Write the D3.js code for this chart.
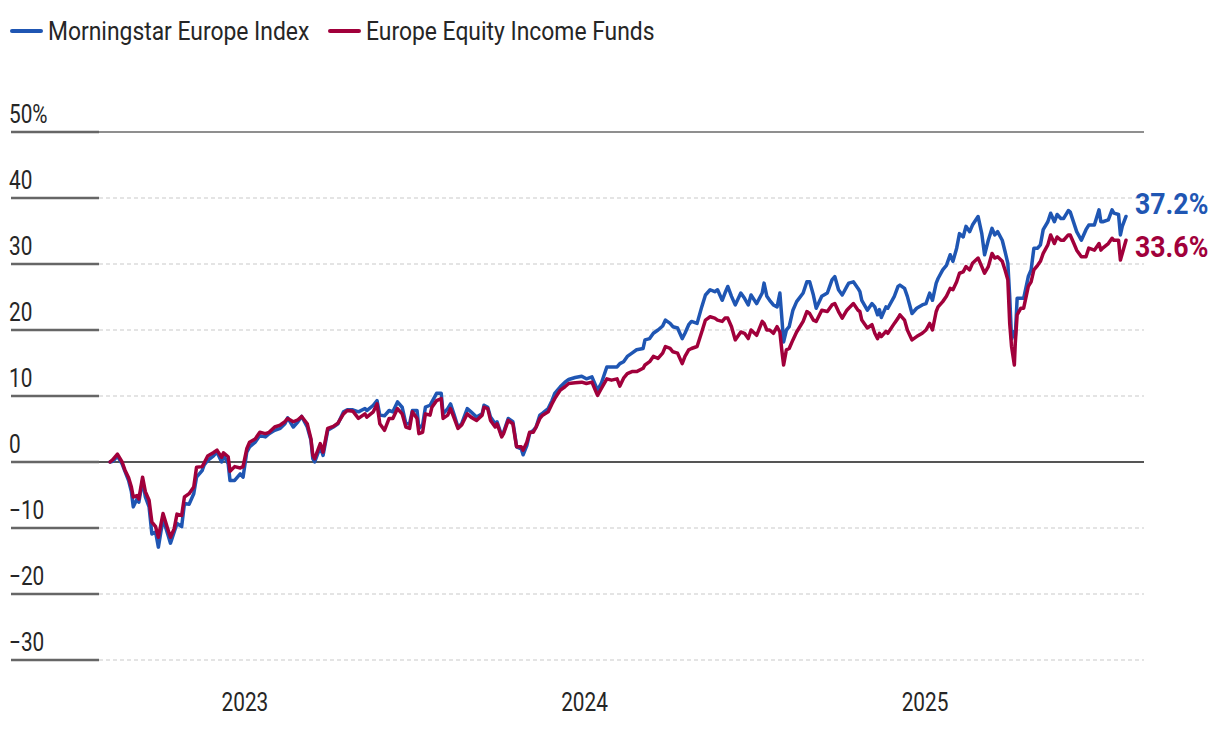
<!DOCTYPE html>
<html>
<head>
<meta charset="utf-8">
<script src="https://cdn.jsdelivr.net/npm/d3@7"></script>
<style>
  body { margin: 0; background: #fff; }
  svg { display: block; }
  text { font-family: Roboto, "Noto Sans", sans-serif; fill: #262626; }
</style>
</head>
<body>
<svg id="chart" width="1220" height="732"></svg>
<script>
// ---- data ----
const seriesNames = ["Morningstar Europe Index", "Europe Equity Income Funds"];
const seriesColors = ["#1f56b3", "#a1003b"];

const dates = [
  "2022-08-09","2022-08-12","2022-08-17","2022-08-22","2022-08-25","2022-08-29","2022-09-01","2022-09-03",
  "2022-09-07","2022-09-09","2022-09-13","2022-09-16","2022-09-20","2022-09-23","2022-09-27","2022-09-30",
  "2022-10-05","2022-10-10","2022-10-13","2022-10-17","2022-10-20","2022-10-25","2022-10-28","2022-11-02",
  "2022-11-07","2022-11-10","2022-11-16","2022-11-18","2022-11-22","2022-11-28","2022-12-02","2022-12-07",
  "2022-12-09","2022-12-14","2022-12-16","2022-12-21","2022-12-27","2022-12-30","2023-01-03","2023-01-06",
  "2023-01-12","2023-01-17","2023-01-23","2023-01-27","2023-02-02","2023-02-08","2023-02-13","2023-02-16",
  "2023-02-22","2023-02-27","2023-03-03","2023-03-09","2023-03-13","2023-03-15","2023-03-17","2023-03-23",
  "2023-03-26","2023-03-31","2023-04-06","2023-04-11","2023-04-17","2023-04-21","2023-04-27","2023-05-03",
  "2023-05-10","2023-05-12","2023-05-19","2023-05-23","2023-05-26","2023-05-31","2023-06-05","2023-06-09",
  "2023-06-14","2023-06-19","2023-06-23","2023-06-27","2023-06-30","2023-07-05","2023-07-07","2023-07-11",
  "2023-07-14","2023-07-19","2023-07-21","2023-07-26","2023-07-31","2023-08-02","2023-08-07","2023-08-10",
  "2023-08-14","2023-08-18","2023-08-22","2023-08-28","2023-09-01","2023-09-07","2023-09-13","2023-09-15",
  "2023-09-19","2023-09-22","2023-09-27","2023-09-29","2023-10-04","2023-10-06","2023-10-11","2023-10-16",
  "2023-10-18","2023-10-20","2023-10-25","2023-10-27","2023-10-31","2023-11-03","2023-11-07","2023-11-10",
  "2023-11-14","2023-11-17","2023-11-23","2023-11-27","2023-11-30","2023-12-06","2023-12-11","2023-12-15",
  "2023-12-22","2023-12-29","2024-01-03","2024-01-09","2024-01-12","2024-01-15","2024-01-19","2024-01-25",
  "2024-01-30","2024-02-05","2024-02-08","2024-02-12","2024-02-16","2024-02-21","2024-02-26","2024-03-04",
  "2024-03-06","2024-03-11","2024-03-15","2024-03-20","2024-03-25","2024-03-28","2024-04-02","2024-04-05",
  "2024-04-10","2024-04-15","2024-04-18","2024-04-22","2024-04-25","2024-05-01","2024-05-06","2024-05-10",
  "2024-05-15","2024-05-20","2024-05-23","2024-05-28","2024-05-31","2024-06-03","2024-06-07","2024-06-11",
  "2024-06-17","2024-06-21","2024-06-25","2024-06-28","2024-07-04","2024-07-10","2024-07-12","2024-07-15",
  "2024-07-18","2024-07-22","2024-07-26","2024-07-29","2024-07-31","2024-08-02","2024-08-05","2024-08-08",
  "2024-08-12","2024-08-16","2024-08-23","2024-08-27","2024-08-30","2024-09-03","2024-09-06","2024-09-12",
  "2024-09-18","2024-09-23","2024-09-26","2024-09-30","2024-10-04","2024-10-09","2024-10-11","2024-10-16",
  "2024-10-21","2024-10-23","2024-10-25","2024-10-31","2024-11-05","2024-11-08","2024-11-11","2024-11-13",
  "2024-11-15","2024-11-20","2024-11-22","2024-11-29","2024-12-03","2024-12-05","2024-12-10","2024-12-13",
  "2024-12-18","2024-12-23","2024-12-29","2025-01-02","2025-01-06","2025-01-09","2025-01-13","2025-01-15",
  "2025-01-20","2025-01-24","2025-01-28","2025-01-31","2025-02-04","2025-02-07","2025-02-11","2025-02-14",
  "2025-02-18","2025-02-21","2025-02-27","2025-03-03","2025-03-06","2025-03-10","2025-03-14","2025-03-17",
  "2025-03-20","2025-03-25","2025-03-28","2025-03-31","2025-04-02","2025-04-04","2025-04-07","2025-04-08",
  "2025-04-10","2025-04-14","2025-04-17","2025-04-22","2025-04-25","2025-04-28","2025-05-02","2025-05-05",
  "2025-05-08","2025-05-13","2025-05-16","2025-05-20","2025-05-23","2025-05-27","2025-05-30","2025-06-04",
  "2025-06-06","2025-06-10","2025-06-13","2025-06-18","2025-06-23","2025-06-26","2025-07-02","2025-07-07",
  "2025-07-09","2025-07-11","2025-07-17","2025-07-21","2025-07-23","2025-07-28","2025-07-30","2025-08-01",
  "2025-08-05"
];

// Morningstar Europe Index, cumulative return %
const indexValues = [
  0, 0.1, 0.9, -0.3, -1.4, -2.8, -4.5, -6.8,
  -5.6, -6.1, -2.8, -5.3, -6.8, -10.9, -10.6, -12.9,
  -8.6, -10.9, -12.3, -10.6, -9.3, -9.8, -6.3, -6.4,
  -4.8, -2.3, -1.3, -0.5, 0.25, 0.9, 1.5, 0,
  1.0, -0.25, -2.8, -2.8, -1.8, -2.3, 1.5, 2.3,
  3.0, 4.0, 3.8, 4.3, 4.8, 5.1, 5.8, 6.7,
  5.3, 6.1, 6.9, 5.3, 3.3, 0.5, 0, 2.3,
  1.0, 4.8, 5.3, 5.8, 7.6, 7.9, 7.9, 7.6,
  8.1, 7.8, 8.6, 9.3, 7.1, 7.0, 7.8, 7.6,
  9.1, 8.3, 5.8, 5.8, 7.8, 7.8, 5.1, 5.6,
  8.3, 8.6, 9.1, 10.4, 10.4, 7.3, 8.1, 8.8,
  7.1, 5.3, 5.8, 8.1, 7.6, 6.8, 7.3, 8.6,
  8.3, 6.8, 5.8, 6.1, 4.0, 4.5, 6.6, 6.1,
  4.3, 2.3, 2.0, 1.1, 2.5, 4.3, 4.8, 5.3,
  7.1, 7.4, 8.1, 9.3, 10.4, 11.4, 12.1, 12.5,
  12.8, 13.0, 12.6, 12.9, 11.9, 10.9, 11.9, 14.4,
  14.4, 14.4, 14.9, 15.2, 16.0, 16.5, 17.0, 17.2,
  18.5, 18.7, 19.5, 20.0, 20.6, 21.5, 21.0, 20.5,
  20.3, 18.7, 19.5, 20.8, 21.3, 21.0, 23.5, 25.3,
  26.1, 25.8, 26.1, 24.5, 25.6, 26.6, 25.1, 23.8,
  25.6, 24.8, 23.8, 25.3, 24.0, 25.6, 27.1, 25.1,
  24.5, 23.8, 23.5, 25.6, 22.0, 18.2, 20.0, 20.5,
  23.0, 24.3, 25.6, 27.3, 27.3, 25.3, 23.3, 25.1,
  25.6, 27.6, 28.1, 26.1, 25.3, 26.6, 27.1, 27.3,
  26.3, 25.8, 24.5, 23.0, 24.0, 23.5, 22.3, 23.1,
  21.9, 23.5, 23.3, 25.1, 26.6, 26.8, 26.3, 25.1,
  22.5, 23.3, 23.8, 24.0, 25.6, 24.5, 27.1, 27.8,
  29.1, 29.8, 31.4, 30.4, 32.4, 34.6, 34.1, 35.7,
  34.9, 35.9, 37.2, 34.6, 31.4, 33.6, 35.4, 34.4,
  34.9, 33.6, 31.9, 30.1, 25.1, 18.6, 19.8, 19.0,
  24.8, 24.8, 24.8, 28.1, 29.1, 32.4, 32.4, 32.9,
  35.2, 36.4, 37.7, 36.4, 37.5, 36.9, 36.9, 38.1,
  37.9, 36.2, 34.9, 33.6, 35.2, 35.9, 35.9, 38.2,
  36.4, 36.4, 36.7, 38.2, 37.7, 37.5, 34.4, 35.7,
  37.2
];

// Europe Equity Income Funds, cumulative return %
const fundValues = [
  0, 0.35, 1.2, 0, -1.2, -2.4, -3.8, -5.3,
  -5.1, -5.6, -2.3, -4.5, -5.8, -9.1, -9.8, -11.4,
  -7.8, -10.1, -11.4, -10.1, -7.9, -8.1, -5.3, -4.8,
  -3.8, -0.8, -0.7, -0.2, 0.9, 1.4, 1.8, 0.7,
  1.4, 0.8, -1.4, -0.7, -0.9, -0.7, 2.0, 3.0,
  3.5, 4.5, 4.3, 4.5, 5.3, 5.6, 6.1, 6.6,
  6.1, 6.4, 6.9, 5.8, 3.5, 1.0, 0.5, 2.8,
  1.5, 5.1, 5.4, 5.9, 7.3, 7.8, 7.7, 6.6,
  7.3, 6.8, 7.6, 8.8, 5.8, 4.8, 6.6, 6.6,
  8.1, 7.3, 5.3, 5.1, 7.6, 6.6, 4.3, 4.5,
  7.3, 7.1, 8.3, 9.3, 9.6, 6.6, 7.1, 8.1,
  6.6, 5.1, 5.6, 7.3, 6.8, 6.3, 7.1, 8.3,
  8.1, 6.3, 5.3, 5.8, 3.8, 4.3, 6.3, 5.8,
  4.0, 2.3, 2.3, 1.8, 3.0, 4.5, 4.5, 5.3,
  6.6, 7.1, 7.6, 8.8, 9.6, 10.9, 11.4, 11.9,
  12.0, 12.1, 11.9, 12.1, 11.1, 10.1, 11.1, 12.6,
  12.4, 12.6, 11.5, 12.7, 13.4, 13.7, 13.7, 14.2,
  14.7, 15.2, 16.0, 15.7, 16.5, 17.5, 17.2, 16.7,
  16.5, 14.9, 16.0, 17.0, 17.2, 17.5, 19.7, 21.5,
  22.0, 21.8, 21.5, 21.3, 21.8, 21.8, 20.5, 18.5,
  19.7, 19.5, 18.7, 20.0, 19.2, 21.3, 21.0, 20.0,
  20.0, 19.5, 20.5, 19.7, 17.0, 14.7, 17.0, 17.2,
  18.5, 19.7, 21.3, 22.8, 22.5, 21.5, 21.3, 23.0,
  22.8, 23.8, 24.0, 22.8, 21.8, 23.0, 23.3, 24.0,
  23.0, 22.8, 21.5, 20.3, 20.8, 19.5, 18.7, 19.5,
  19.0, 19.8, 19.5, 21.0, 21.8, 22.3, 21.5, 20.0,
  18.5, 19.0, 19.5, 20.0, 21.0, 20.0, 22.8, 23.5,
  24.3, 25.1, 26.3, 26.1, 27.3, 28.6, 28.8, 29.6,
  29.1, 30.1, 30.9, 29.6, 28.6, 29.6, 31.6, 30.9,
  31.1, 30.4, 29.1, 27.6, 21.0, 17.5, 14.7, 18.0,
  22.3, 23.3, 23.3, 26.6, 27.3, 29.1, 29.8, 30.4,
  31.6, 32.9, 34.4, 33.1, 34.1, 33.6, 33.6, 34.4,
  34.4, 33.1, 32.1, 31.1, 31.1, 32.4, 32.1, 33.1,
  32.1, 32.4, 33.1, 33.9, 33.6, 33.6, 30.6, 31.6,
  33.6
];

const yTicks = [-30, -20, -10, 0, 10, 20, 30, 40, 50];
const yearTicks = ["2023-01-01", "2024-01-01", "2025-01-01"];
const yearLabels = ["2023", "2024", "2025"];

// ---- layout ----
const gridLeft = 11, stubEnd = 99, gridRight = 1144;
const plotLeft = 110, plotRight = 1126;
const plotTop = 132, plotBottom = 660;
const textSquash = 0.8;   // condensed look for axis text
const legendSquash = 0.88;

const parse = d3.timeParse("%Y-%m-%d");
const dateObjs = dates.map(parse);

const x = d3.scaleTime()
  .domain(d3.extent(dateObjs))
  .range([plotLeft, plotRight]);

const y = d3.scaleLinear()
  .domain([-30, 50])
  .range([plotBottom, plotTop]);

const svg = d3.select("#chart");

// gridlines: dark stub on the left, light dashed line after it
const grid = svg.append("g");
yTicks.forEach(function(v) {
  let yy = y(v);
  grid.append("line")
    .attr("x1", gridLeft).attr("x2", stubEnd)
    .attr("y1", yy).attr("y2", yy)
    .attr("stroke", "#666").attr("stroke-width", 2.5);
  let line = grid.append("line")
    .attr("x1", stubEnd).attr("x2", gridRight)
    .attr("y1", yy).attr("y2", yy);
  if (v === 0) {
    line.attr("stroke", "#555").attr("stroke-width", 2);
  } else if (v === 50) {
    line.attr("stroke", "#6a6a6a").attr("stroke-width", 1.5);
  } else {
    line.attr("stroke", "#dcdcdc").attr("stroke-width", 1.5)
      .attr("stroke-dasharray", "4,3");
  }
});

// y tick labels sit above their gridline
const fmt = d3.format("d");
svg.append("g").selectAll("text")
  .data(yTicks)
  .join("text")
  .attr("transform", function(d) {
    return "translate(" + (gridLeft - 2) + "," + (y(d) - 9) + ") scale(" + textSquash + ",1)";
  })
  .attr("font-size", 26)
  .text(function(d) { return d === 50 ? "50%" : fmt(d); });

// year labels
svg.append("g").selectAll("text")
  .data(yearTicks)
  .join("text")
  .attr("transform", function(d) {
    return "translate(" + x(parse(d)) + ",711) scale(" + textSquash + ",1)";
  })
  .attr("text-anchor", "middle")
  .attr("font-size", 26)
  .text(function(d, i) { return yearLabels[i]; });

// lines
const series = [indexValues, fundValues];
const line = d3.line()
  .x(function(d, i) { return x(dateObjs[i]); })
  .y(function(d) { return y(d); });

series.forEach(function(vals, s) {
  svg.append("path")
    .datum(vals)
    .attr("fill", "none")
    .attr("stroke", seriesColors[s])
    .attr("stroke-width", 3.5)
    .attr("stroke-linejoin", "round")
    .attr("stroke-linecap", "round")
    .attr("d", line);
});

// end labels, pushed apart so they don't collide
const lastVals = series.map(function(v) { return v[v.length - 1]; });
let ends = lastVals.map(function(v) { return y(v); });
const minGap = 43;
if (ends[1] - ends[0] < minGap) {
  let mid = (ends[0] + ends[1]) / 2 - 3;
  ends = [mid - minGap / 2, mid + minGap / 2];
}
svg.append("g").selectAll("text")
  .data(lastVals)
  .join("text")
  .attr("transform", function(d, i) {
    return "translate(1135," + (ends[i] + 10) + ") scale(0.92,1)";
  })
  .attr("font-size", 29)
  .attr("font-weight", "bold")
  .style("fill", function(d, i) { return seriesColors[i]; })
  .text(function(d) { return d3.format(".1f")(d) + "%"; });

// legend
const legendX = [12, 330];
const legend = svg.append("g");
seriesNames.forEach(function(name, i) {
  legend.append("line")
    .attr("x1", legendX[i]).attr("x2", legendX[i] + 29)
    .attr("y1", 31).attr("y2", 31)
    .attr("stroke", seriesColors[i])
    .attr("stroke-width", 4)
    .attr("stroke-linecap", "round");
  legend.append("text")
    .attr("transform", "translate(" + (legendX[i] + 36) + ",40) scale(" + legendSquash + ",1)")
    .attr("font-size", 26)
    .text(name);
});
</script>
</body>
</html>
